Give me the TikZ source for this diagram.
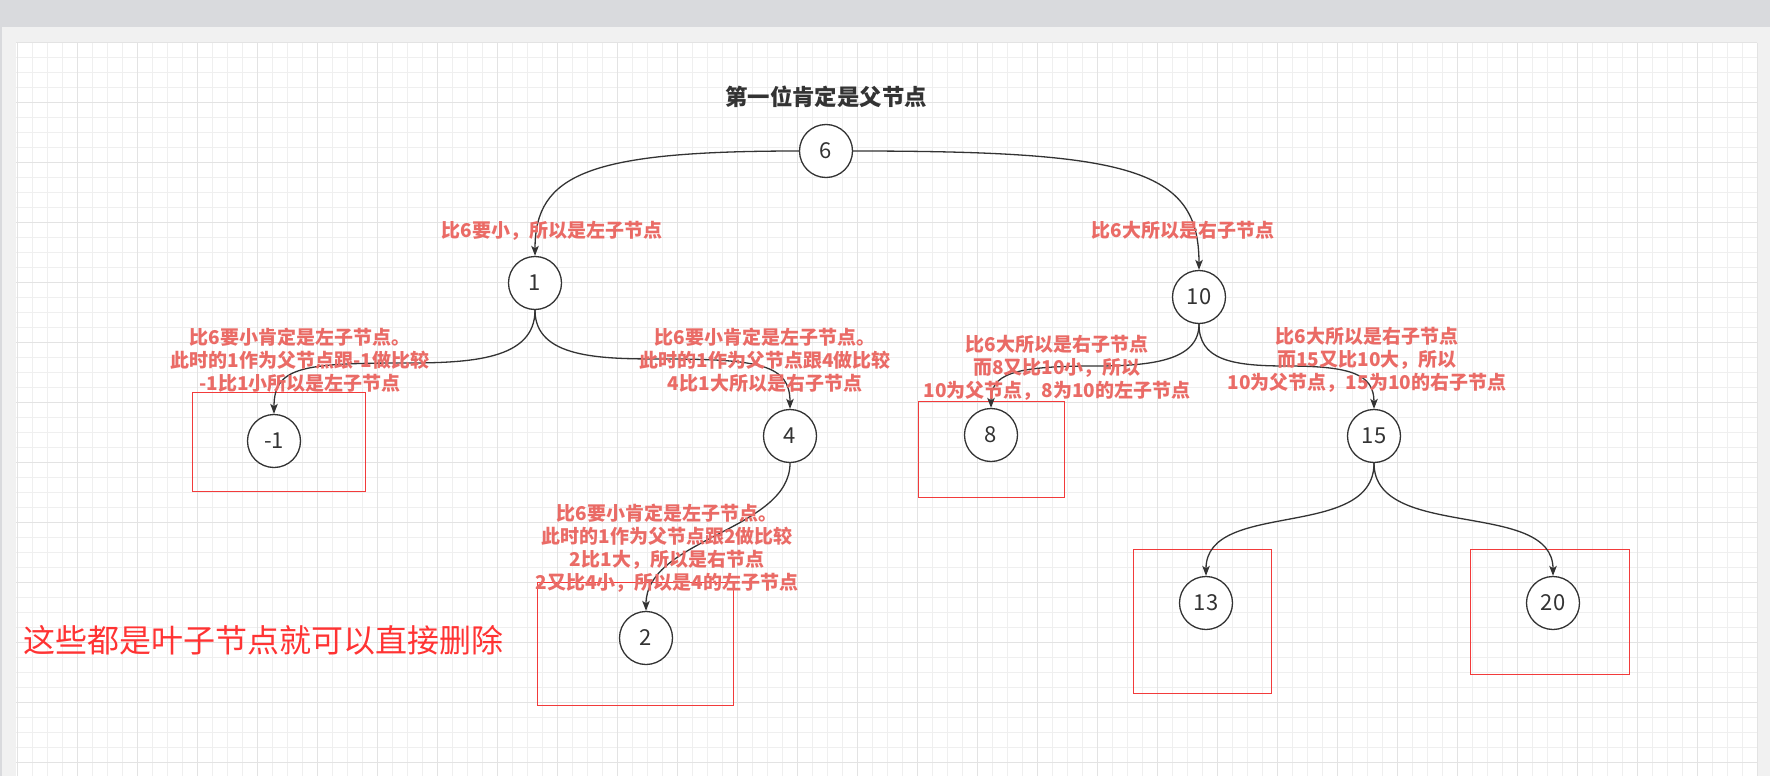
\documentclass[tikz,border=0pt]{standalone}
\usepackage{fontspec}
\setmainfont{Noto Sans CJK SC}
\usetikzlibrary{arrows.meta}
\definecolor{gridminor}{HTML}{EFEFEF}
\definecolor{gridmajor}{HTML}{E3E3E3}
\definecolor{framegray}{HTML}{F1F1F1}
\definecolor{topband}{HTML}{D9DADD}
\definecolor{ink}{HTML}{333333}
\definecolor{lbl}{HTML}{EA6B66}
\definecolor{boxred}{HTML}{F23B3B}
\definecolor{bigred}{HTML}{FF3333}
\begin{document}
\begin{tikzpicture}[x=1pt,y=-1pt,
  treenode/.style={circle,draw=ink,fill=white,line width=1.3pt,minimum size=53pt,inner sep=0pt,font=\fontsize{22}{26}\selectfont,text=ink},
  edge/.style={draw=ink,line width=1.3pt,-{Stealth[length=10pt,width=7.5pt,inset=2.5pt]}},
  leafbox/.style={draw=boxred,line width=1pt},
  note/.style={text=lbl,font=\bfseries\fontsize{19}{23}\selectfont,align=center,inner sep=0pt},
  minorline/.style={draw=gridminor,line width=1pt},
  majorline/.style={draw=gridmajor,line width=1pt}]
\useasboundingbox (0,0) rectangle (1770,776);
% frame and canvas
\fill[framegray] (0,0) rectangle (1770,776);
\fill[topband] (0,0) rectangle (1770,27);
\fill[topband] (0,27) rectangle (2,776);
\fill[white] (16,42.7) rectangle (1757,776);
% grid
\foreach \i in {0,...,116} \draw[minorline] ({17.5+15*\i},42.7) -- ({17.5+15*\i},776);
\foreach \j in {0,...,48} \draw[minorline] (16,{42.7+15*\j}) -- (1757,{42.7+15*\j});
\foreach \i in {0,...,29} \draw[majorline] ({17.5+60*\i},42.7) -- ({17.5+60*\i},776);
\foreach \j in {0,...,12} \draw[majorline] (16,{42.7+60*\j}) -- (1757,{42.7+60*\j});
% leaf boxes
\draw[leafbox] (192,392) rectangle (365,491);
\draw[leafbox] (537,582) rectangle (733,705);
\draw[leafbox] (918,401) rectangle (1064,497);
\draw[leafbox] (1133,549) rectangle (1271,693);
\draw[leafbox] (1470,549) rectangle (1629,674);
% nodes
\node[treenode] (n6) at (826,151) {6};
\node[treenode] (n1) at (535,283) {1};
\node[treenode] (n10) at (1199,297) {10};
\node[treenode] (nm1) at (274,441) {-1};
\node[treenode] (n4) at (790,436) {4};
\node[treenode] (n8) at (991,435) {8};
\node[treenode] (n15) at (1374,436) {15};
\node[treenode] (n2) at (646,638) {2};
\node[treenode] (n13) at (1206,603) {13};
\node[treenode] (n20) at (1553,603) {20};
% waypoints
\coordinate (m1) at (404,363);
\coordinate (m4) at (662,359);
\coordinate (m8) at (1095,366);
\coordinate (m15) at (1286,366);
% connectors
\draw[edge] (n6.west) .. controls +(-210,0) and +(0,-82) .. (n1.north);
\draw[edge] (n6.east) .. controls +(277,0) and +(0,-101) .. (n10.north);
\draw[edge] (n1.south) .. controls +(0,50) and +(66,0) .. (m1) .. controls +(-104,0) and +(0,-46) .. (nm1.north);
\draw[edge] (n1.south) .. controls +(0,48) and +(-62,0) .. (m4) .. controls +(98,0) and +(0,-44) .. (n4.north);
\draw[edge] (n10.south) .. controls +(0,37) and +(55,0) .. (m8) .. controls +(-85,0) and +(0,-33) .. (n8.north);
\draw[edge] (n10.south) .. controls +(0,35) and +(-56,0) .. (m15) .. controls +(64,0) and +(0,-35) .. (n15.north);
\draw[edge] (n4.south) .. controls +(0,67) and +(0,-72) .. (n2.north);
\draw[edge] (n15.south) .. controls +(0,78) and +(0,-77) .. (n13.north);
\draw[edge] (n15.south) .. controls +(0,78) and +(0,-77) .. (n20.north);
% texts
\node[text=ink,font=\bfseries\fontsize{22.4}{26}\selectfont,inner sep=0pt] (title) at (826,97) {第一位肯定是父节点};
\node[note] (t61) at (552,231) {比6要小，所以是左子节点};
\node[note] (t610) at (1183,230) {比6大所以是右子节点};
\node[note] (tm1) at (300,360) {比6要小肯定是左子节点。\\此时的1作为父节点跟-1做比较\\-1比1小所以是左子节点};
\node[note] (t4) at (765,360) {比6要小肯定是左子节点。\\此时的1作为父节点跟4做比较\\4比1大所以是右子节点};
\node[note] (t8) at (1057,368) {比6大所以是右子节点\\而8又比10小，所以\\10为父节点，8为10的左子节点};
\node[note] (t15) at (1367,360) {比6大所以是右子节点\\而15又比10大，所以\\10为父节点，15为10的右子节点};
\node[note] (t2) at (667,548) {比6要小肯定是左子节点。\\此时的1作为父节点跟2做比较\\2比1大，所以是右节点\\2又比4小，所以是4的左子节点};
\node[anchor=west,inner sep=0pt,text=bigred,font=\fontsize{32}{38}\selectfont] (big) at (23,640) {这些都是叶子节点就可以直接删除};
\end{tikzpicture}
\end{document}
